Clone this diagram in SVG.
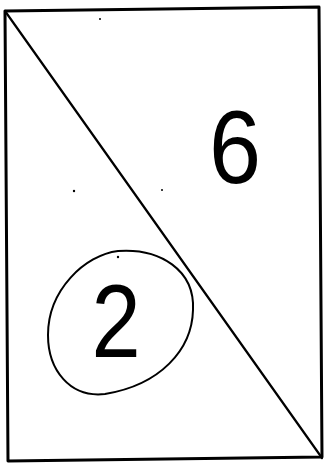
<svg xmlns="http://www.w3.org/2000/svg" width="324" height="463" viewBox="0 0 324 463">
<style>
.ln{fill:none;stroke:#000;stroke-linecap:round;stroke-linejoin:round}
.num{font-family:"Liberation Sans",Arial,sans-serif;font-size:104px;fill:#000;text-anchor:middle}
</style>
<rect width="324" height="463" fill="#fff"/>
<g id="frame">
<polygon class="ln" stroke-width="3" points="5,11 319,7 322,457 8,461"/>
</g>
<g id="connectors">
<path class="ln" stroke-width="2.2" d="M5,11 L322,458"/>
</g>
<g id="node-6">
<text class="num" transform="translate(235 183) scale(0.9 1)">6</text>
</g>
<g id="node-2">
<path class="ln" stroke-width="2" d="M118,251 C160,248 195,270 193,310 C192,350 160,385 105,394 C70,398 48,370 48,335 C48,290 85,255 118,251 Z"/>
<text class="num" transform="translate(116 357) scale(0.85 1)">2</text>
</g>
<g id="specks" fill="#000">
<circle cx="100" cy="19" r="1"/>
<circle cx="74" cy="191" r="1.2"/>
<circle cx="162" cy="190" r="1"/>
<circle cx="118" cy="257" r="1.2"/>
</g>
</svg>
